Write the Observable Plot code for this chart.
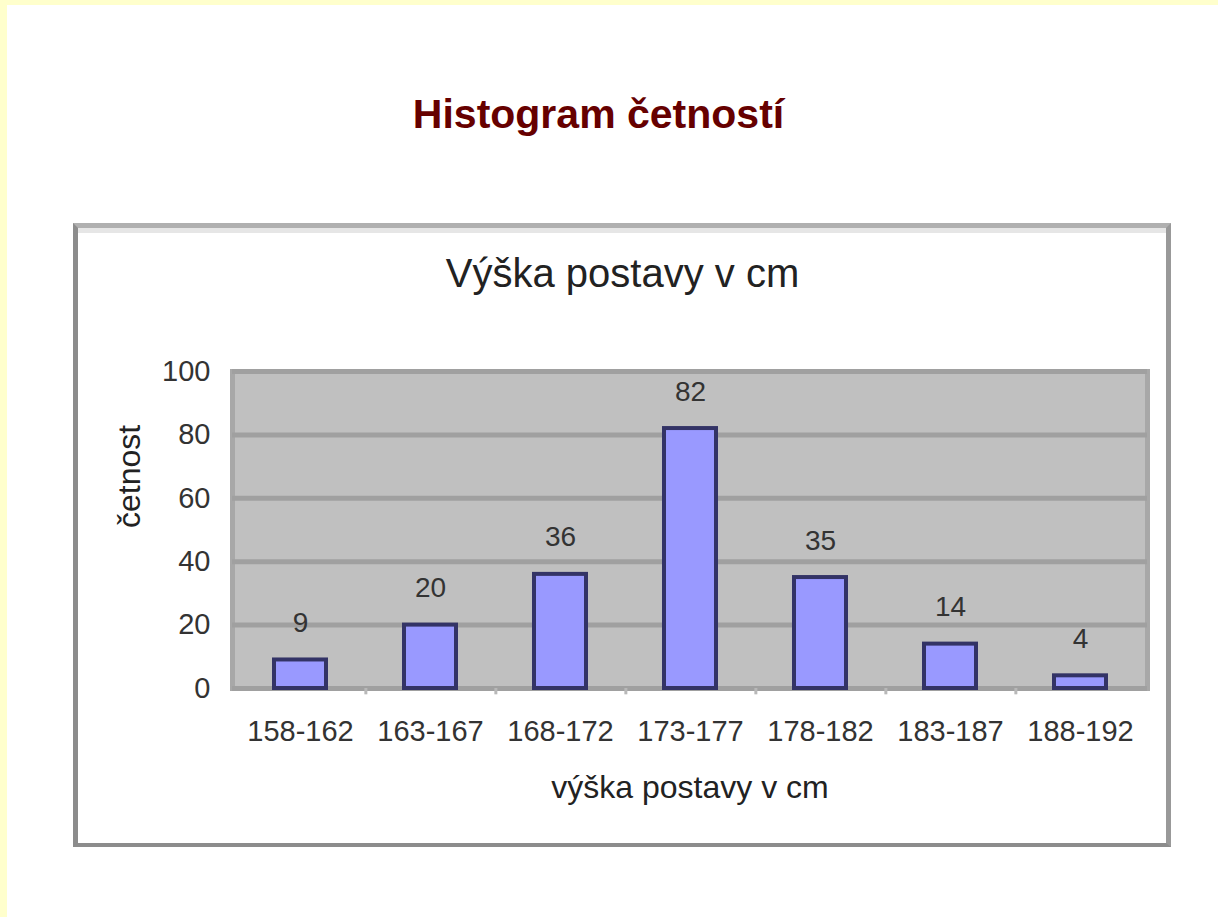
<!DOCTYPE html>
<html>
<head>
<meta charset="utf-8">
<script src="https://cdn.jsdelivr.net/npm/d3@7"></script>
<script src="https://cdn.jsdelivr.net/npm/@observablehq/plot@0.6"></script>
<style>
  html, body { margin: 0; padding: 0; background: #ffffff; }
  body { width: 1218px; height: 917px; position: relative; overflow: hidden; font-family: Arial, "Liberation Sans", sans-serif; }
  #ytop { position: absolute; left: 0; top: 0; width: 1218px; height: 5px; background: #ffffcc; }
  #yleft { position: absolute; left: 0; top: 0; width: 7px; height: 917px; background: #ffffcc; }
  #box { position: absolute; left: 73px; top: 223px; width: 1098px; height: 624px; box-sizing: border-box;
         border-left: 5px solid #8c8c8c; border-top: 5px solid #b0b0b0; border-right: 5px solid #999999; border-bottom: 4px solid #8c8c8c;
         box-shadow: inset 0 5px 0 #e6e6e6; }
  #chart { position: absolute; left: 0; top: 0; }
</style>
</head>
<body>
<div id="ytop"></div>
<div id="yleft"></div>
<div id="box"></div>
<div id="chart"></div>
<script>
const categories = ["158-162", "163-167", "168-172", "173-177", "178-182", "183-187", "188-192"];
const counts = [9, 20, 36, 82, 35, 14, 4];
const yTicks = [0, 20, 40, 60, 80, 100];
const mainTitle = "Histogram četností";
const chartTitle = "Výška postavy v cm";
const xTitle = "výška postavy v cm";
const yTitle = "četnost";

const data = categories.map((c, i) => ({cat: c, n: counts[i]}));

const W = 1218, H = 917;
const mL = 232, mR = 71, mT = 371, mB = 229;
const step = (W - mL - mR) / categories.length;
const cx = (mL + (W - mR)) / 2;

const chart = Plot.plot({
  width: W,
  height: H,
  marginLeft: mL,
  marginRight: mR,
  marginTop: mT,
  marginBottom: mB,
  style: {
    background: "transparent",
    fontFamily: "Arial, 'Liberation Sans', sans-serif",
    fontSize: "29px",
    color: "#333333",
    overflow: "visible"
  },
  x: {domain: categories, paddingInner: 0.6, paddingOuter: 0.3, tickSize: 0, tickPadding: 32, label: null},
  y: {domain: [0, 100], ticks: yTicks, tickSize: 0, tickPadding: 22, label: null},
  marks: [
    Plot.frame({fill: "#c0c0c0", stroke: "#a8a8a8", strokeWidth: 5}),
    Plot.ruleY(yTicks, {stroke: "#a0a0a0", strokeWidth: 5}),
    Plot.ruleX(categories.slice(0, -1), {x: d => d, dx: step / 2, y1: 0, y2: -2, stroke: "#b8b8b8", strokeWidth: 3}),
    Plot.barY(data, {x: "cat", y: "n", fill: "#9999ff", stroke: "#333366", strokeWidth: 4}),
    Plot.text(data, {x: "cat", y: "n", text: d => String(d.n), dy: -37, fontSize: 28, fill: "#333333"}),
    Plot.text([xTitle], {text: d => d, frameAnchor: "bottom", lineAnchor: "bottom", dy: 109, fontSize: 32, fill: "#222222"}),
    Plot.text([yTitle], {text: d => d, frameAnchor: "left", dx: -103, dy: -2, rotate: -90, fontSize: 32, fill: "#222222"}),
    Plot.text([chartTitle], {text: d => d, frameAnchor: "top", lineAnchor: "bottom", dx: 622 - cx, dy: 286 - mT, fontSize: 40, fill: "#222222"}),
    Plot.text([mainTitle], {text: d => d, frameAnchor: "top", lineAnchor: "bottom", dx: 598 - cx, dy: 127 - mT, fontSize: 41, fontWeight: "bold", fill: "#660000"})
  ]
});
document.getElementById("chart").appendChild(chart);
</script>
</body>
</html>
